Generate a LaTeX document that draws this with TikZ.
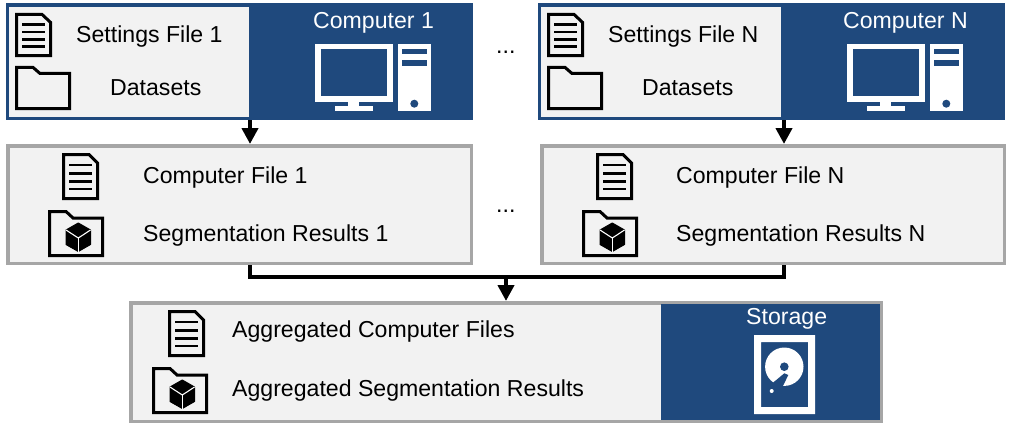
\documentclass[tikz,border=0pt]{standalone}
\usepackage{fontspec}
\setmainfont{Liberation Sans}
\usetikzlibrary{arrows.meta}

\definecolor{darkblue}{HTML}{1F497D}
\definecolor{lightfill}{HTML}{F2F2F2}
\definecolor{greyline}{HTML}{A6A6A6}

\tikzset{
	bluepanel/.style={anchor=north west, fill=darkblue, inner sep=0pt, outer sep=0pt},
	lightpanel/.style={anchor=north west, fill=lightfill, inner sep=0pt, outer sep=0pt},
	resultbox/.style={anchor=north west, draw=greyline, fill=lightfill, line width=3.5pt, inner sep=0pt},
	boxtext/.style={anchor=base west, inner sep=0pt, font=\fontsize{23.1}{27}\selectfont},
	headtext/.style={boxtext, text=white},
	flowline/.style={line width=4pt},
	flowarrow/.style={line width=4.5pt, -{Triangle[width=16pt,length=16pt]}},
	iconline/.style={draw=black, line width=3pt},
	docicon/.pic={
		\draw[iconline] (1.5,1.5) -- (27,1.5) -- (35.5,10) -- (35.5,45.5) -- (1.5,45.5) -- cycle;
		\foreach \liney in {12,20.5,28.5,36} {
			\draw[black, line width=2.6pt] (7,\liney) -- (30,\liney);
		}
	},
	foldericon/.pic={
		\draw[iconline] (1.5,1.5) -- (18,1.5) -- (25,8) -- (54.5,8) -- (54.5,45.5) -- (1.5,45.5) -- cycle;
	},
	cubefolder/.pic={
		\draw[iconline] (1.5,1.5) -- (18,1.5) -- (25,8) -- (54.5,8) -- (54.5,45.5) -- (1.5,45.5) -- cycle;
		\fill[black, draw=black, line width=1pt, line join=round] (30.3,13) -- (42.5,20) -- (42.5,34.5) -- (30.3,41.5) -- (18,34.5) -- (18,20) -- cycle;
		\draw[white, line width=1.1pt] (18,20) -- (30.3,28) -- (42.5,20);
		\draw[white, line width=1.1pt] (30.3,28) -- (30.3,41.5);
	},
	computericon/.pic={
		% Monitor with its stand
		\fill[white] (0,0) rectangle (78.3,57.7);
		\fill[darkblue] (6,5.3) rectangle (72.3,52);
		\fill[white] (33.6,57.7) rectangle (44.6,62);
		\fill[white] (20.6,62) rectangle (58,67.3);
		% Tower
		\fill[white] (83,0) rectangle (116.3,67.3);
		\fill[darkblue] (87.3,4.7) rectangle (112,10.3);
		\fill[darkblue] (87.3,15.7) rectangle (112,21.7);
		\fill[darkblue] (99.6,59.7) circle (4);
	}
}

\begin{document}
\begin{tikzpicture}[x=1pt,y=-1pt]
	\useasboundingbox (0,0) rectangle (1011,429);

	% Computer panels at the top
	\node (computerone) [bluepanel, minimum width=467pt, minimum height=117pt] at (6,3) {};
	\node (settingsone) [lightpanel, minimum width=240pt, minimum height=110pt] at (9,7) {};
	\node (computern) [bluepanel, minimum width=467pt, minimum height=117pt] at (538,3) {};
	\node (settingsn) [lightpanel, minimum width=240pt, minimum height=110pt] at (541,7) {};

	% Result boxes in the middle
	\node (resultsone) [resultbox, minimum width=463.5pt, minimum height=117.5pt] at (6,144) {};
	\node (resultsn) [resultbox, minimum width=462.5pt, minimum height=117.5pt] at (540,144) {};

	% Aggregated box and storage at the bottom
	\node (aggregated) [resultbox, minimum width=750.5pt, minimum height=118.5pt] at (129,301) {};
	\node (storage) [bluepanel, minimum width=219pt, minimum height=116pt] at (661,304) {};

	% Texts of the top panels
	\node (settingstextone) [boxtext] at (76,42.2) {Settings File 1};
	\node (datasetsone) [boxtext] at (110,95.5) {Datasets};
	\node (computertextone) [headtext] at (313,28.2) {Computer 1};
	\node (settingstextn) [boxtext] at (608,42.2) {Settings File N};
	\node (datasetsn) [boxtext] at (642,95.5) {Datasets};
	\node (computertextn) [headtext] at (843,28.2) {Computer N};
	\node (dotstop) [boxtext] at (496,53) {...};

	% Texts of the result boxes
	\node (filetextone) [boxtext] at (143,183.5) {Computer File 1};
	\node (segtextone) [boxtext] at (143,241.2) {Segmentation Results 1};
	\node (filetextn) [boxtext] at (676,183.5) {Computer File N};
	\node (segtextn) [boxtext] at (676,241.2) {Segmentation Results N};
	\node (dotsmid) [boxtext] at (496,212) {...};

	% Texts of the aggregated box
	\node (aggfiles) [boxtext] at (232,337.2) {Aggregated Computer Files};
	\node (aggseg) [boxtext] at (232,396.2) {Aggregated Segmentation Results};
	\node (storagetext) [headtext] at (746,324.8) {Storage};

	% Icons of the top panels
	\pic[yscale=0.936] at (15,13) {docicon};
	\pic[yscale=0.936] at (15,66) {foldericon};
	\pic at (314.7,44) {computericon};
	\pic[yscale=0.936] at (547,13) {docicon};
	\pic[yscale=0.936] at (547,66) {foldericon};
	\pic at (846.7,44) {computericon};

	% Icons of the result boxes
	\pic at (62,153) {docicon};
	\pic at (48,210) {cubefolder};
	\pic at (596,153) {docicon};
	\pic at (582,210) {cubefolder};

	% Icons of the aggregated box
	\pic at (168,310) {docicon};
	\pic at (152,367) {cubefolder};

	% Hard disk in the storage panel
	\fill[white, even odd rule] (754,335) rectangle (815,414) (761,342) rectangle (808,407);
	\fill[white] (784.3,366.7) circle (19.2);
	\fill[darkblue] (784.3,366.7) circle (4.3);
	\fill[darkblue] (769,386) -- (784.3,373.3) -- (788.3,375) -- (781,390) -- cycle;
	\fill[white] (771.7,391) circle (2);

	% Arrows from the computers to their results
	\coordinate (linkone) at (250,120);
	\coordinate (linkn) at (784,120);
	\coordinate (busmid) at (506,277);
	\draw[flowarrow] (linkone) -- (linkone |- resultsone.north);
	\draw[flowarrow] (linkn) -- (linkn |- resultsn.north);

	% Bus joining the results into the aggregated box
	\draw[flowline] (linkone |- resultsone.south) -- (linkone |- busmid) -- (linkn |- busmid) -- (linkn |- resultsn.south);
	\draw[flowarrow] (busmid) -- (aggregated.north);
\end{tikzpicture}
\end{document}
